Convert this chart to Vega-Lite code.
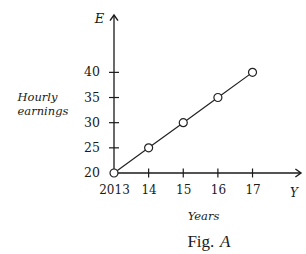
{
  "$schema": "https://vega.github.io/schema/vega-lite/v6.json",
  "width": 187,
  "height": 158,
  "autosize": {"type": "none"},
  "padding": {"left": 114, "top": 15, "right": 5, "bottom": 81},
  "background": "white",
  "config": {
    "view": {"stroke": null},
    "font": "DejaVu Serif",
    "axis": {
      "grid": false,
      "domain": false,
      "ticks": false,
      "labelFont": "DejaVu Serif",
      "labelFontSize": 12,
      "labelColor": "#1a1a1a",
      "labelOverlap": false,
      "titleFont": "DejaVu Serif",
      "titleFontStyle": "italic",
      "titleFontWeight": "normal",
      "titleColor": "#1a1a1a",
      "titleFontSize": 11.5
    }
  },
  "data": {
    "values": [
      {"Year": 2013, "E": 20},
      {"Year": 2014, "E": 25},
      {"Year": 2015, "E": 30},
      {"Year": 2016, "E": 35},
      {"Year": 2017, "E": 40}
    ]
  },
  "layer": [
    {
      "mark": {"type": "line", "stroke": "#222", "strokeWidth": 1.2},
      "encoding": {
        "x": {
          "field": "Year",
          "type": "quantitative",
          "scale": {"domain": [2013, 2018.4], "nice": false, "zero": false},
          "axis": {
            "values": [2013, 2014, 2015, 2016, 2017],
            "labelExpr": "datum.value == 2013 ? '2013' : '' + (datum.value - 2000)",
            "labelFlush": false,
            "labelOverlap": false,
            "labelPadding": 11,
            "title": "Years",
            "titleX": 89,
            "titleY": 46,
            "titleBaseline": "alphabetic",
            "titleAlign": "center"
          }
        },
        "y": {
          "field": "E",
          "type": "quantitative",
          "scale": {"domain": [20, 51.4], "nice": false, "zero": false},
          "axis": {
            "values": [20, 25, 30, 35, 40],
            "labels": false,
            "title": ["Hourly", "earnings"],
            "titleAngle": 0,
            "titleAlign": "left",
            "titleBaseline": "alphabetic",
            "titleX": -97,
            "titleY": 85,
            "titleLineHeight": 14
          }
        }
      }
    },
    {
      "mark": {"type": "text", "font": "DejaVu Serif", "fontSize": 12.5, "color": "#1a1a1a", "align": "right", "baseline": "middle", "dx": -14},
      "encoding": {
        "x": {"datum": 2013, "type": "quantitative"},
        "y": {"field": "E", "type": "quantitative"},
        "text": {"field": "E", "type": "quantitative", "format": "d"}
      }
    },
    {
      "data": {"values": [{}]},
      "mark": {"type": "rule", "stroke": "#1a1a1a", "strokeWidth": 1.3},
      "encoding": {
        "x": {"datum": 2013, "type": "quantitative"},
        "x2": {"datum": 2018.4},
        "y": {"datum": 20, "type": "quantitative"}
      }
    },
    {
      "data": {"values": [{}]},
      "mark": {"type": "rule", "stroke": "#1a1a1a", "strokeWidth": 1.3},
      "encoding": {
        "x": {"datum": 2013, "type": "quantitative"},
        "y": {"datum": 20, "type": "quantitative"},
        "y2": {"datum": 51.4}
      }
    },
    {
      "data": {"values": [{}]},
      "mark": {"type": "point", "shape": "M-1,1.4L0,0L1,1.4", "filled": false, "stroke": "#1a1a1a", "strokeWidth": 1.4, "size": 64, "opacity": 1},
      "encoding": {
        "x": {"datum": 2013, "type": "quantitative"},
        "y": {"datum": 51.4, "type": "quantitative"}
      }
    },
    {
      "data": {"values": [{}]},
      "mark": {"type": "point", "shape": "M-1.4,-1L0,0L-1.4,1", "filled": false, "stroke": "#1a1a1a", "strokeWidth": 1.4, "size": 64, "opacity": 1},
      "encoding": {
        "x": {"datum": 2018.4, "type": "quantitative"},
        "y": {"datum": 20, "type": "quantitative"}
      }
    },
    {
      "transform": [{"filter": "datum.E > 20"}],
      "mark": {"type": "tick", "orient": "horizontal", "size": 10, "thickness": 1.2, "color": "#1a1a1a", "opacity": 1},
      "encoding": {
        "x": {"datum": 2013, "type": "quantitative"},
        "y": {"field": "E", "type": "quantitative"}
      }
    },
    {
      "transform": [{"filter": "datum.Year > 2013"}],
      "mark": {"type": "tick", "orient": "vertical", "size": 9, "thickness": 1.2, "color": "#1a1a1a", "opacity": 1},
      "encoding": {
        "x": {"field": "Year", "type": "quantitative"},
        "y": {"datum": 20, "type": "quantitative"}
      }
    },
    {
      "mark": {"type": "point", "filled": true, "fill": "white", "stroke": "#222", "strokeWidth": 1.2, "size": 64, "opacity": 1},
      "encoding": {
        "x": {"field": "Year", "type": "quantitative"},
        "y": {"field": "E", "type": "quantitative"}
      }
    },
    {
      "data": {"values": [{}]},
      "mark": {"type": "text", "text": "E", "font": "DejaVu Serif", "fontStyle": "italic", "fontSize": 13, "color": "#1a1a1a", "align": "center", "baseline": "middle"},
      "encoding": {
        "x": {"datum": 2012.58, "type": "quantitative"},
        "y": {"datum": 50.6, "type": "quantitative"}
      }
    },
    {
      "data": {"values": [{}]},
      "mark": {"type": "text", "text": "Y", "font": "DejaVu Serif", "fontStyle": "italic", "fontSize": 12, "color": "#1a1a1a", "align": "center", "baseline": "middle"},
      "encoding": {
        "x": {"datum": 2018.2, "type": "quantitative"},
        "y": {"datum": 16, "type": "quantitative"}
      }
    },
    {
      "data": {"values": [{}]},
      "mark": {"type": "text", "text": "Fig.", "font": "Liberation Serif", "fontSize": 17, "color": "#1a1a1a", "align": "left", "baseline": "alphabetic"},
      "encoding": {
        "x": {"datum": 2015.12, "type": "quantitative"},
        "y": {"datum": 5.2, "type": "quantitative"}
      }
    },
    {
      "data": {"values": [{}]},
      "mark": {"type": "text", "text": "A", "font": "Liberation Serif", "fontStyle": "italic", "fontSize": 17, "color": "#1a1a1a", "align": "left", "baseline": "alphabetic"},
      "encoding": {
        "x": {"datum": 2016.06, "type": "quantitative"},
        "y": {"datum": 5.2, "type": "quantitative"}
      }
    }
  ]
}
